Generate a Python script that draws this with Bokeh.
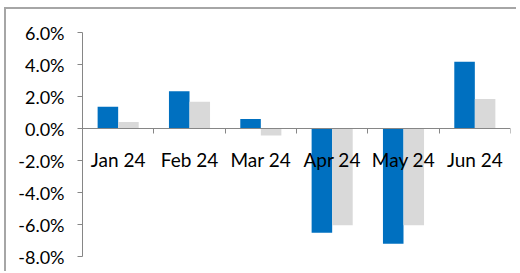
from bokeh.plotting import figure
from bokeh.models import Range1d, LinearAxis, FixedTicker, NumeralTickFormatter, ColumnDataSource
from bokeh.embed import file_html
from bokeh.resources import INLINE

months = ["Jan 24", "Feb 24", "Mar 24", "Apr 24", "May 24", "Jun 24"]
series_a = [0.0136, 0.0233, 0.0060, -0.0652, -0.0720, 0.0417]
series_b = [0.0040, 0.0167, -0.0044, -0.0604, -0.0604, 0.0185]
y_ticks = [-0.08, -0.06, -0.04, -0.02, 0.0, 0.02, 0.04, 0.06]

BLUE = "#0070C0"
GRAY = "#D9D9D9"
AXIS = "#868686"
FONT = "Lato"

n = len(months)
bw = 0.288
centers = [i + 0.5 for i in range(n)]

p = figure(width=512, height=264, output_backend="svg", toolbar_location=None,
           x_axis_location=None, y_axis_location=None,
           x_range=Range1d(0, n), y_range=Range1d(-0.08, 0.06),
           min_border_left=76, min_border_right=8, min_border_top=23, min_border_bottom=17)
p.styles = {"border-top": "2px solid #a6a6a6", "border-left": "2px solid #a6a6a6",
            "margin-left": "4px", "margin-top": "7px"}
p.outline_line_color = None
p.grid.visible = False
p.background_fill_color = "white"
p.border_fill_color = "white"

src = ColumnDataSource(dict(
    xa=[c - bw / 2 for c in centers], xb=[c + bw / 2 for c in centers],
    a=series_a, b=series_b))
p.vbar(x="xa", top="a", bottom=0, width=bw, source=src, fill_color=BLUE, line_color=None)
p.vbar(x="xb", top="b", bottom=0, width=bw, source=src, fill_color=GRAY, line_color=None)

yaxis = LinearAxis(ticker=FixedTicker(ticks=y_ticks, minor_ticks=[]),
                   formatter=NumeralTickFormatter(format="0.0%"))
yaxis.axis_line_color = AXIS
yaxis.major_tick_line_color = AXIS
yaxis.major_tick_out = 5
yaxis.major_tick_in = 0
yaxis.major_label_standoff = 13
yaxis.major_label_text_font = FONT
yaxis.major_label_text_font_size = "18px"
yaxis.major_label_text_color = "#000000"
p.add_layout(yaxis, "left")

xaxis = LinearAxis(ticker=FixedTicker(ticks=centers, minor_ticks=list(range(n + 1))),
                   fixed_location=0)
xaxis.major_label_overrides = {c: m for c, m in zip(centers, months)}
xaxis.axis_line_color = AXIS
xaxis.major_tick_line_color = None
xaxis.minor_tick_line_color = AXIS
xaxis.minor_tick_out = 5
xaxis.minor_tick_in = 0
xaxis.major_tick_out = 0
xaxis.major_tick_in = 0
xaxis.major_label_standoff = 14
xaxis.major_label_text_font = FONT
xaxis.major_label_text_font_size = "19px"
xaxis.major_label_text_color = "#000000"
p.add_layout(xaxis, "below")

open("out.html", "w").write(file_html(p, INLINE))
